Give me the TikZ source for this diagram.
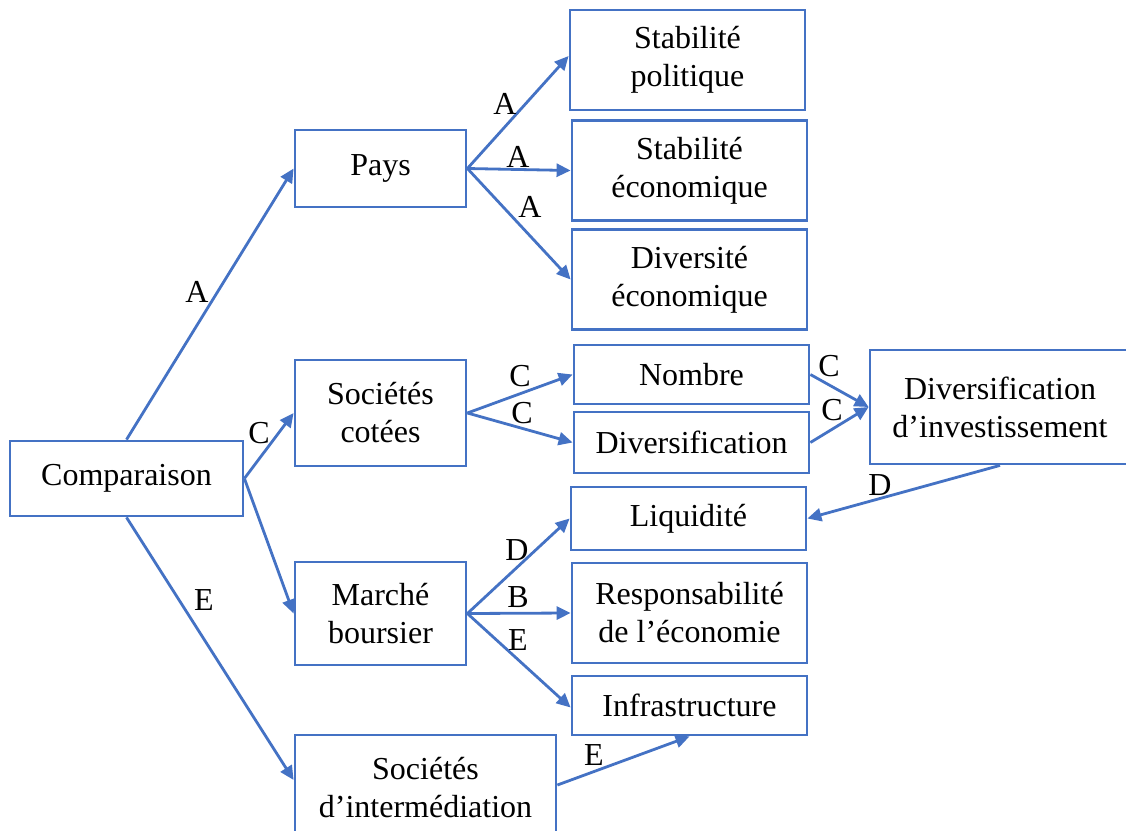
\documentclass[tikz,border=0pt]{standalone}
\usepackage{fontspec}
\setmainfont{Liberation Serif}
\usetikzlibrary{arrows.meta, positioning}
\definecolor{lineblue}{HTML}{4472C4}

\begin{document}
\begin{tikzpicture}[
				x=0.5pt, y=-0.5pt,
				>={Triangle[length=7pt,width=6.5pt]},
				font=\fontsize{16}{19}\selectfont,
				box/.style={
					draw=lineblue,
					line width=1.4pt,
					fill=white,
					inner sep=0pt,
					align=center
				},
				side/.style={
					box,
					minimum width=117.5pt,
					minimum height=50pt
				},
				mid/.style={
					box,
					minimum width=85.5pt
				},
				link/.style={
					->,
					draw=lineblue,
					line width=1.4pt
				},
				tag/.style={
					inner sep=0pt
				}
				]

				\useasboundingbox (0,0) rectangle (1126,831);
				\clip (0,0) rectangle (1126,831);

				%------------------------------------------------
				% LEFT AND MIDDLE COLUMNS
				%------------------------------------------------

				\node[box, minimum width=116.5pt, minimum height=37.5pt] (comp) at (126.5,478.5) {Comparaison};

				\node[mid, minimum height=38.5pt] (pays) at (380.5,168.5) {Pays};
				\node[mid, minimum height=53pt] (cotees) at (380.5,413) {Sociétés\\cotées};
				\node[mid, minimum height=51.5pt] (marche) at (380.5,613.5) {Marché\\boursier};
				\node[box, minimum width=130.5pt, minimum height=53pt] (interm) at (425.5,788) {Sociétés\\d’intermédiation};

				%------------------------------------------------
				% RIGHT COLUMN
				%------------------------------------------------

				\node[side] (stabpol) at (687.5,60) {Stabilité\\politique};
				\node[side] (stabeco) at (689.5,170.5) {Stabilité\\économique};
				\node[side] (diveco) at (689.5,279.5) {Diversité\\économique};
				\node[side, minimum height=29.5pt] (nombre) at (691.5,374.5) {Nombre};
				\node[side, minimum height=30.5pt] (divers) at (691.5,442.5) {Diversification};
				\node[side, minimum height=31.5pt] (liquid) at (688.5,518.5) {Liquidité};
				\node[side] (respo) at (689.5,613) {Responsabilité\\de l’économie};
				\node[side, minimum height=29.5pt] (infra) at (689.5,705.5) {Infrastructure};

				\node[box, minimum width=130pt, minimum height=57pt] (divinv) at (1000,407) {Diversification\\d’investissement};

				%------------------------------------------------
				% ARROWS
				%------------------------------------------------

				\draw[link] (comp.north) -- (pays.west);
				\draw[link] (comp.east) -- (cotees.west);
				\draw[link] (comp.east) -- (marche.west);
				\draw[link] (comp.south) -- ([yshift=4pt]interm.west);

				\draw[link] (pays.east) -- ([yshift=2pt]stabpol.west);
				\draw[link] (pays.east) -- (stabeco.west);
				\draw[link] (pays.east) -- (diveco.west);

				\draw[link] (cotees.east) -- (nombre.west);
				\draw[link] (cotees.east) -- (divers.west);
				\draw[link] (nombre.east) -- (divinv.west);
				\draw[link] (divers.east) -- (divinv.west);
				\draw[link] (divinv.south) -- (liquid.east);

				\draw[link] (marche.east) -- (liquid.west);
				\draw[link] (marche.east) -- (respo.west);
				\draw[link] (marche.east) -- ([yshift=-1pt]infra.west);
				\draw[link] ([yshift=1.5pt]interm.east) -- (infra.south);

				%------------------------------------------------
				% LABELS
				%------------------------------------------------

				\node[tag] (tA1) at (197,292) {A};
				\node[tag] (tC1) at (259,433) {C};
				\node[tag] (tE1) at (204,600) {E};
				\node[tag] (tA2) at (505,104) {A};
				\node[tag] (tA3) at (518,157) {A};
				\node[tag] (tA4) at (530,207) {A};
				\node[tag] (tC2) at (520,376) {C};
				\node[tag] (tC3) at (522,413) {C};
				\node[tag] (tC4) at (829,366) {C};
				\node[tag] (tC5) at (832,410) {C};
				\node[tag] (tD1) at (880,485) {D};
				\node[tag] (tD2) at (517,550) {D};
				\node[tag] (tB1) at (518,597) {B};
				\node[tag] (tE2) at (518,640) {E};
				\node[tag] (tE3) at (594,755) {E};

			\end{tikzpicture}
\end{document}
